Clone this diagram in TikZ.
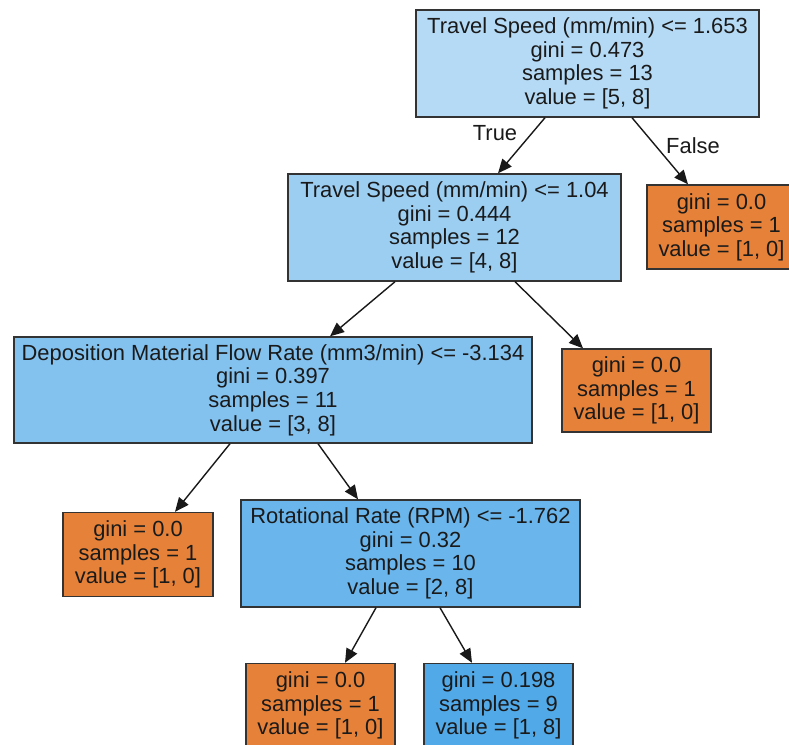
\documentclass[tikz,border=0pt]{standalone}
\usepackage{fontspec}
\setmainfont{Liberation Sans}
\usetikzlibrary{arrows.meta}
\definecolor{cRoot}{HTML}{B5DAF5}
\definecolor{cTwo}{HTML}{9CCEF2}
\definecolor{cThree}{HTML}{83C2EF}
\definecolor{cFour}{HTML}{6AB6EC}
\definecolor{cFive}{HTML}{52A9E8}
\definecolor{cOrange}{HTML}{E58139}
\definecolor{cBorder}{HTML}{333333}
\definecolor{cText}{HTML}{1A1A1A}
\tikzset{
  treebox/.style={draw=cBorder, line width=1.4pt, rectangle, inner sep=0pt,
    align=center, text=cText, font=\fontsize{21.9}{23.6}\selectfont},
  leafbox/.style={treebox, fill=cOrange, minimum width=149pt, minimum height=84pt},
  edge/.style={draw=black!90, line width=1.4pt, -{Triangle[length=14pt,width=12pt]}},
  elabel/.style={text=cText, font=\fontsize{21.9}{23.6}\selectfont, inner sep=0pt}
}
\begin{document}
\begin{tikzpicture}[x=1pt,y=-1pt]
\useasboundingbox (0,0) rectangle (789,744);
\node[treebox, fill=cRoot, minimum width=343pt, minimum height=107pt] (root) at (587.5,63.5)
  {Travel Speed (mm/min) <= 1.653\\gini = 0.473\\samples = 13\\value = [5, 8]};
\node[treebox, fill=cTwo, minimum width=333pt, minimum height=107pt] (n2) at (454.5,227.5)
  {Travel Speed (mm/min) <= 1.04\\gini = 0.444\\samples = 12\\value = [4, 8]};
\node[leafbox] (lf) at (721.5,227)
  {gini = 0.0\\samples = 1\\value = [1, 0]};
\node[treebox, fill=cThree, minimum width=518pt, minimum height=106pt] (n3) at (273,390)
  {Deposition Material Flow Rate (mm3/min) <= -3.134\\gini = 0.397\\samples = 11\\value = [3, 8]};
\node[leafbox, minimum height=83pt] (la) at (636.5,390.5)
  {gini = 0.0\\samples = 1\\value = [1, 0]};
\node[leafbox, minimum width=150pt] (lb) at (138,554.5)
  {gini = 0.0\\samples = 1\\value = [1, 0]};
\node[treebox, fill=cFour, minimum width=339pt, minimum height=107pt] (n4) at (410.5,553.5)
  {Rotational Rate (RPM) <= -1.762\\gini = 0.32\\samples = 10\\value = [2, 8]};
\node[leafbox] (lc) at (320.5,705.5)
  {gini = 0.0\\samples = 1\\value = [1, 0]};
\node[leafbox, fill=cFive] (ld) at (498.5,705.5)
  {gini = 0.198\\samples = 9\\value = [1, 8]};
\draw[edge] ([xshift=-42.5pt]root.south) -- ([xshift=43.5pt]n2.north);
\draw[edge] ([xshift=44.5pt]root.south) -- ([xshift=-33.5pt]lf.north);
\draw[edge] ([xshift=-59.5pt]n2.south) -- ([xshift=57pt]n3.north);
\draw[edge] ([xshift=60.5pt]n2.south) -- ([xshift=-53.5pt]la.north);
\draw[edge] ([xshift=-43pt]n3.south) -- ([xshift=37pt]lb.north);
\draw[edge] ([xshift=45pt]n3.south) -- ([xshift=-52.5pt]n4.north);
\draw[edge] ([xshift=-34.5pt]n4.south) -- ([xshift=24.5pt]lc.north);
\draw[edge] ([xshift=29.5pt]n4.south) -- ([xshift=-26.5pt]ld.north);
\node[elabel] (tl) at (495,133) {True};
\node[elabel] (fl) at (693,146) {False};
\end{tikzpicture}
\end{document}
